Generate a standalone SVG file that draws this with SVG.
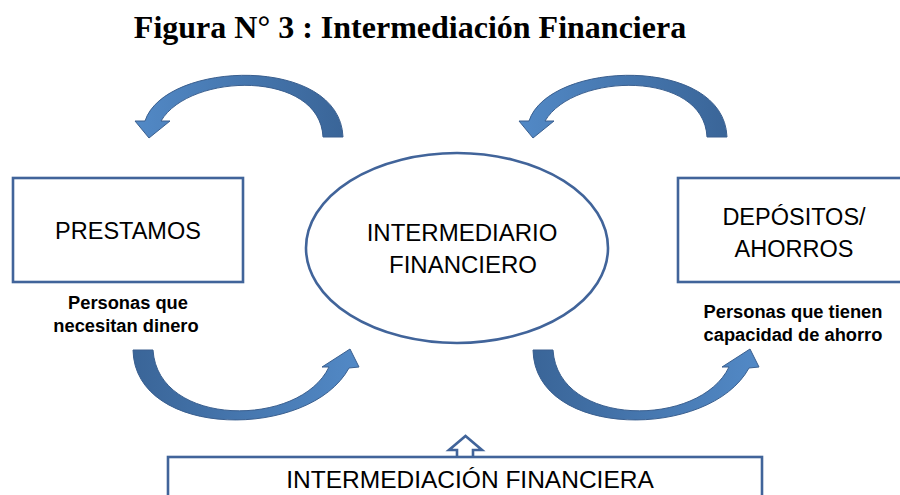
<svg xmlns="http://www.w3.org/2000/svg" width="900" height="495" viewBox="0 0 900 495">
  <style>
    .box { fill: #ffffff; stroke: #41649A; stroke-width: 2.6; }
    .lbl { font-family: "Liberation Sans", Arial, sans-serif; font-size: 23.5px; fill: #000000; text-anchor: middle; }
    .sub { font-family: "Liberation Sans", Arial, sans-serif; font-size: 18.3px; font-weight: bold; fill: #000000; text-anchor: middle; }
    .title { font-family: "Liberation Serif", "Times New Roman", serif; font-size: 32px; font-weight: bold; fill: #000000; text-anchor: middle; }
    .arrowL { fill: url(#gradL); stroke: #3A5F8F; stroke-width: 1; }
    .arrowR { fill: url(#gradR); stroke: #3A5F8F; stroke-width: 1; }
  </style>
  <defs>
    <linearGradient id="gradL" x1="1" y1="0" x2="0" y2="0">
      <stop offset="0" stop-color="#3A6598"/>
      <stop offset="1" stop-color="#5289C6"/>
    </linearGradient>
    <linearGradient id="gradR" x1="0" y1="0" x2="1" y2="0">
      <stop offset="0" stop-color="#3A6598"/>
      <stop offset="1" stop-color="#5289C6"/>
    </linearGradient>
    <path id="curveTop" d="M343,137 C340,55 165,60 145,121 L135,121 L149,138 L170,121 L161,121 C190,72 320,70 323,137 Z"/>
    <path id="curveBottom" d="M133,350 C135,440 310,440 349,368 L359,367 L350,349 L322,367 L329,367 C300,428 158,428 153,350 Z"/>
  </defs>
  <rect width="900" height="495" fill="#ffffff"/>

  <g id="title">
    <text class="title" x="410" y="38">Figura N° 3 : Intermediación Financiera</text>
  </g>

  <g id="connectors">
    <use href="#curveTop" class="arrowL"/>
    <use href="#curveTop" class="arrowL" transform="translate(384,0)"/>
    <use href="#curveBottom" class="arrowR"/>
    <use href="#curveBottom" class="arrowR" transform="translate(400,0)"/>
    <path class="box" d="M457,458 L457,450 L449,450 L465.5,436 L482,450 L473,450 L473,458"/>
  </g>

  <g id="node-prestamos">
    <rect class="box" x="13" y="178" width="230" height="104"/>
    <text class="lbl" x="128" y="239">PRESTAMOS</text>
    <text class="sub" x="128" y="309">Personas que</text>
    <text class="sub" x="126" y="332">necesitan dinero</text>
  </g>

  <g id="node-intermediario">
    <ellipse class="box" cx="457" cy="248" rx="151" ry="95"/>
    <text class="lbl" x="462" y="241" style="font-size:24px">INTERMEDIARIO</text>
    <text class="lbl" x="463" y="273" style="font-size:24px">FINANCIERO</text>
  </g>

  <g id="node-depositos">
    <rect class="box" x="678" y="178" width="240" height="104"/>
    <text class="lbl" x="794" y="225">DEPÓSITOS/</text>
    <text class="lbl" x="794" y="257">AHORROS</text>
    <text class="sub" x="793" y="318">Personas que tienen</text>
    <text class="sub" x="793" y="341">capacidad de ahorro</text>
  </g>

  <g id="node-intermediacion">
    <rect class="box" x="168" y="457" width="594" height="60"/>
    <text class="lbl" x="470" y="488" style="font-size:24.5px">INTERMEDIACIÓN FINANCIERA</text>
  </g>
</svg>
